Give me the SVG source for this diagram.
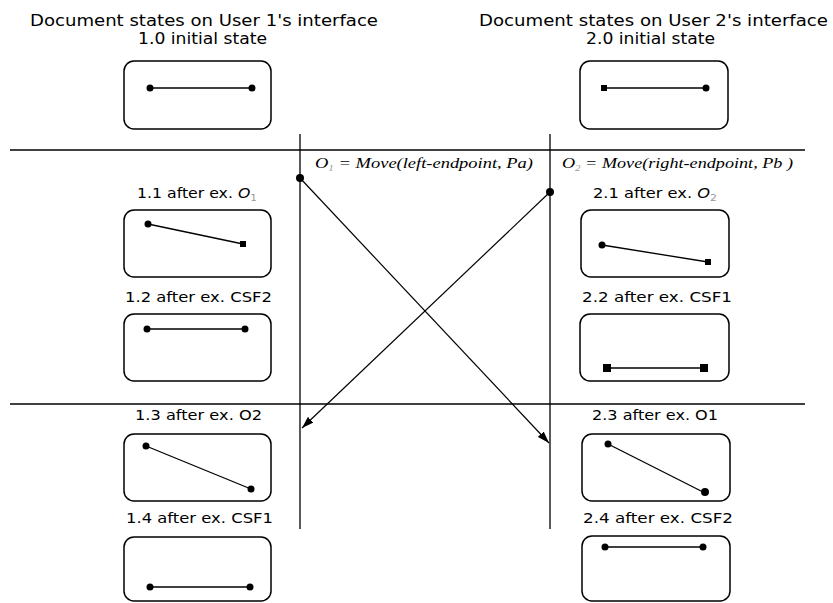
<svg xmlns="http://www.w3.org/2000/svg" width="833" height="603" viewBox="0 0 833 603">
<defs>
<style>
.box{fill:#fff;stroke:#000;stroke-width:1.5}
.seg{stroke:#000;stroke-width:1.3;fill:none}
.pt{fill:#000}
.title{font-family:"DejaVu Sans",sans-serif;font-size:15px;fill:#000}
.lbl{font-family:"DejaVu Sans",sans-serif;font-size:13.5px;fill:#000}
.op{font-family:"Liberation Serif",serif;font-style:italic;font-size:15px;fill:#000}
.sub{font-size:9px;fill:#999}
.rule{stroke:#000;stroke-width:1.3}
.arr{stroke:#000;stroke-width:1.2;fill:none}
</style>
<marker id="ah" viewBox="0 0 12 8" refX="12" refY="4" markerWidth="12" markerHeight="8" markerUnits="userSpaceOnUse" orient="auto">
<path d="M0,0 L12,4 L0,8 Z" fill="#000"/>
</marker>
</defs>
<rect width="833" height="603" fill="#fff"/>

<g id="titles">
<text class="title" x="30" y="26" textLength="348" lengthAdjust="spacingAndGlyphs">Document states on User 1's interface</text>
<text class="title" x="138" y="44" textLength="129" lengthAdjust="spacingAndGlyphs">1.0 initial state</text>
<text class="title" x="479" y="26" textLength="349" lengthAdjust="spacingAndGlyphs">Document states on User 2's interface</text>
<text class="title" x="586" y="44" textLength="129" lengthAdjust="spacingAndGlyphs">2.0 initial state</text>
</g>

<g id="connectors">
<line class="rule" x1="10" y1="150" x2="805" y2="150"/>
<line class="rule" x1="10" y1="404" x2="805" y2="404"/>
<line class="rule" x1="300" y1="134" x2="300" y2="529"/>
<line class="rule" x1="550" y1="134" x2="550" y2="529"/>
<line class="arr" x1="300" y1="178" x2="549" y2="443" marker-end="url(#ah)"/>
<line class="arr" x1="550" y1="192" x2="302" y2="428" marker-end="url(#ah)"/>
<circle class="pt" cx="300" cy="178" r="4"/>
<circle class="pt" cx="550" cy="192" r="4"/>
<text class="op" x="315" y="168" textLength="218" lengthAdjust="spacingAndGlyphs"><tspan>O</tspan><tspan class="sub" dy="3">1</tspan><tspan dy="-3"> = Move(left-endpoint, Pa)</tspan></text>
<text class="op" x="562" y="168" textLength="231" lengthAdjust="spacingAndGlyphs"><tspan>O</tspan><tspan class="sub" dy="3">2</tspan><tspan dy="-3"> = Move(right-endpoint, Pb )</tspan></text>
</g>

<g id="n10">
<rect class="box" x="124" y="61" width="147" height="68" rx="10"/>
<line class="seg" x1="150" y1="88" x2="252" y2="88"/>
<circle class="pt" cx="150" cy="88" r="3.5"/><circle class="pt" cx="252" cy="88" r="3.5"/>
</g>
<g id="n20">
<rect class="box" x="580" y="61" width="148" height="68" rx="10"/>
<line class="seg" x1="604" y1="88" x2="706" y2="88"/>
<rect class="pt" x="601" y="85" width="6" height="6"/><circle class="pt" cx="706" cy="88" r="3.5"/>
</g>

<g id="n11">
<text class="lbl" x="137" y="198" textLength="120" lengthAdjust="spacingAndGlyphs"><tspan>1.1 after ex. </tspan><tspan font-style="italic">O</tspan><tspan class="sub" dy="3">1</tspan></text>
<rect class="box" x="124" y="210" width="147" height="67" rx="10"/>
<line class="seg" x1="148" y1="224" x2="243" y2="244"/>
<circle class="pt" cx="148" cy="224" r="3.5"/><rect class="pt" x="240" y="241" width="6" height="6"/>
</g>
<g id="n12">
<text class="lbl" x="125" y="302" textLength="147" lengthAdjust="spacingAndGlyphs">1.2 after ex. CSF2</text>
<rect class="box" x="124" y="314" width="147" height="67" rx="10"/>
<line class="seg" x1="147" y1="329" x2="245" y2="329"/>
<circle class="pt" cx="147" cy="329" r="3.5"/><circle class="pt" cx="245" cy="329" r="3.5"/>
</g>
<g id="n13">
<text class="lbl" x="135" y="420" textLength="127" lengthAdjust="spacingAndGlyphs">1.3 after ex. O2</text>
<rect class="box" x="124" y="434" width="147" height="67" rx="10"/>
<line class="seg" x1="146" y1="446" x2="251" y2="489"/>
<circle class="pt" cx="146" cy="446" r="3.5"/><circle class="pt" cx="251" cy="489" r="3.5"/>
</g>
<g id="n14">
<text class="lbl" x="126" y="523" textLength="147" lengthAdjust="spacingAndGlyphs">1.4 after ex. CSF1</text>
<rect class="box" x="124" y="537" width="147" height="64" rx="10"/>
<line class="seg" x1="150" y1="587" x2="250" y2="587"/>
<circle class="pt" cx="150" cy="587" r="3.5"/><circle class="pt" cx="250" cy="587" r="3.5"/>
</g>

<g id="n21">
<text class="lbl" x="593" y="198" textLength="124" lengthAdjust="spacingAndGlyphs"><tspan>2.1 after ex. </tspan><tspan font-style="italic">O</tspan><tspan class="sub" dy="3">2</tspan></text>
<rect class="box" x="581" y="210" width="148" height="67" rx="10"/>
<line class="seg" x1="602" y1="245" x2="708" y2="262"/>
<circle class="pt" cx="602" cy="245" r="3.5"/><rect class="pt" x="705" y="259" width="6" height="6"/>
</g>
<g id="n22">
<text class="lbl" x="582" y="302" textLength="150" lengthAdjust="spacingAndGlyphs">2.2 after ex. CSF1</text>
<rect class="box" x="580" y="314" width="149" height="67" rx="10"/>
<line class="seg" x1="607" y1="368" x2="704" y2="368"/>
<rect class="pt" x="603" y="364" width="8" height="8"/><rect class="pt" x="700" y="364" width="8" height="8"/>
</g>
<g id="n23">
<text class="lbl" x="592" y="420" textLength="126" lengthAdjust="spacingAndGlyphs">2.3 after ex. O1</text>
<rect class="box" x="582" y="434" width="148" height="67" rx="10"/>
<line class="seg" x1="608" y1="444" x2="705" y2="493"/>
<circle class="pt" cx="608" cy="444" r="3.5"/><circle class="pt" cx="705" cy="492" r="4"/>
</g>
<g id="n24">
<text class="lbl" x="583" y="523" textLength="150" lengthAdjust="spacingAndGlyphs">2.4 after ex. CSF2</text>
<rect class="box" x="582" y="536" width="148" height="65" rx="10"/>
<line class="seg" x1="605" y1="547" x2="703" y2="547"/>
<circle class="pt" cx="605" cy="547" r="3.5"/><circle class="pt" cx="703" cy="547" r="3.5"/>
</g>
</svg>
